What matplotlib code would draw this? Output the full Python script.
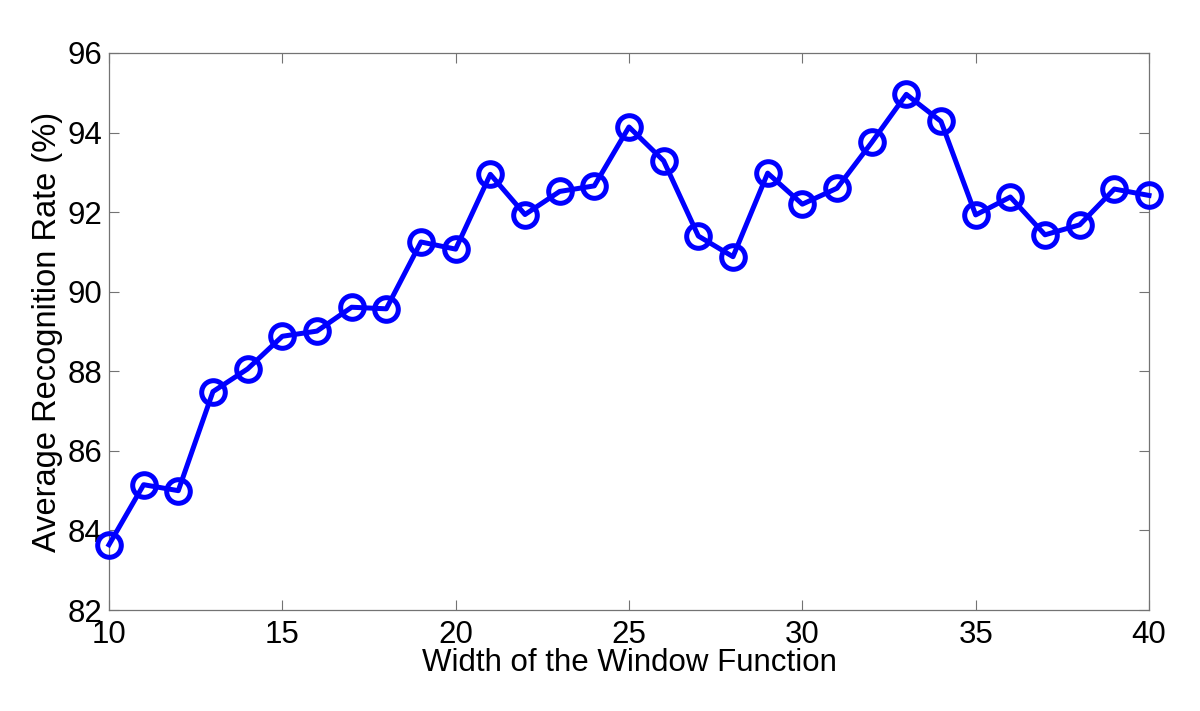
import numpy as np
import matplotlib
matplotlib.use("Agg")
import matplotlib.pyplot as plt

plt.rcParams['font.family'] = ['Liberation Sans', 'DejaVu Sans']

# window width vs recognition rate
widths = list(range(10, 41))
rates = [83.64, 85.15, 85.00, 87.49, 88.06, 88.88, 89.01, 89.61, 89.57, 91.25,
         91.07, 92.95, 91.94, 92.52, 92.66, 94.14, 93.29, 91.40, 90.88, 92.98,
         92.20, 92.60, 93.75, 94.96, 94.28, 91.93, 92.38, 91.43, 91.68, 92.58,
         92.42]

x_ticks = [10, 15, 20, 25, 30, 35, 40]
y_ticks = [82, 84, 86, 88, 90, 92, 94, 96]

fig = plt.figure(figsize=(12, 7.11), dpi=100)
ax = fig.add_axes([0.0908, 0.142, 0.8667, 0.7835])

ax.plot(widths, rates, color=(0, 0, 1), linewidth=3.6, marker='o',
        markersize=17, markerfacecolor='none', markeredgecolor=(0, 0, 1),
        markeredgewidth=3.6, clip_on=False, zorder=3)

ax.set_xlim(10, 40)
ax.set_ylim(82, 96)
ax.set_xticks(x_ticks)
ax.set_yticks(y_ticks)
ax.tick_params(direction='in', length=7, width=0.8, color='0.45',
               top=True, right=True, labelsize=22.5)
ax.tick_params(axis='x', pad=7)
ax.tick_params(axis='y', pad=5)
for s in ax.spines.values():
    s.set_color('0.45')
    s.set_linewidth(0.9)

ax.set_xlabel("Width of the Window Function", fontsize=22.5, labelpad=-1)
ax.set_ylabel("Average Recognition Rate (%)", fontsize=23.5, labelpad=3)

plt.savefig("out.png", dpi=100)
plt.close()
